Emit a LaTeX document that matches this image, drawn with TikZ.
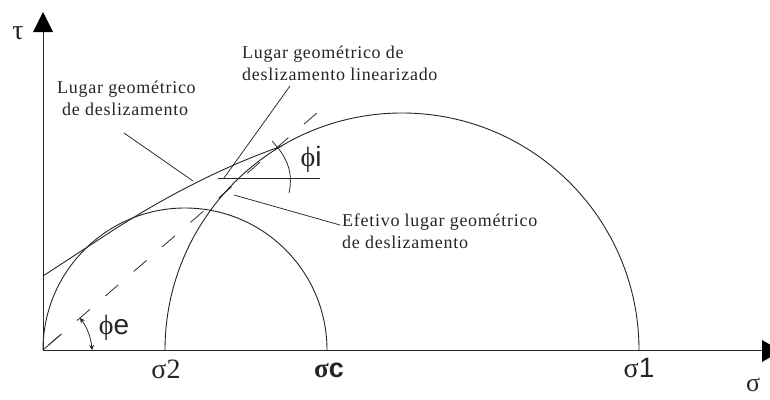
\documentclass[tikz,border=0pt]{standalone}
\usepackage{fontspec}
\usetikzlibrary{arrows.meta}
\setmainfont{Liberation Serif}
\newfontfamily\arialf{Liberation Sans}
\tikzset{
  curveline/.style={draw=black!85,line width=0.9pt},
  thinline/.style={draw=black!85,line width=0.75pt},
  lab/.style={inner sep=0pt,align=left,anchor=west,font=\fontsize{18pt}{23pt}\selectfont\addfontfeature{LetterSpace=4},text=black!85},
  sym/.style={inner sep=0pt,text=black!85,font=\fontsize{28pt}{30pt}\selectfont},
}
\begin{document}
\begin{tikzpicture}[x=1pt,y=-1pt]
\path[use as bounding box] (0,0) rectangle (770,399);
\clip (0,0) rectangle (770,399);
\fill[white] (0,0) rectangle (770,399);
% named points
\coordinate (O) at (43,350);
\coordinate (Ytop) at (43,14);
\coordinate (Xend) at (768,350);
% axes
\draw[thinline,line width=1pt] (O) -- (Ytop);
\draw[thinline,line width=1pt] (O) -- (Xend);
\fill[black] (43,12) -- (33,32) -- (53,32) -- cycle;
\fill[black] (762,340) -- (762,362) -- (781,351) -- cycle;
% circles
\draw[curveline] (43,350) arc[start angle=180,end angle=360,radius=142];
\draw[curveline] (165,350) arc[start angle=180,end angle=360,radius=237];
% envelope
\coordinate (E0) at (43,276);
\coordinate (E1) at (282,146);
\draw[curveline] (E0) -- (115,229) .. controls (170,194) and (225,166) .. (E1);
% dashed line
\coordinate (D1) at (318,112);
\coordinate (D0) at (60,335);
\draw[thinline] (O) -- (D0);
\draw[thinline,dash pattern=on 17pt off 20.5pt,dash phase=30pt] (O) -- (D1);
% linearised line
\coordinate (L0) at (224,178);
\coordinate (L1) at (290,86);
\coordinate (L2) at (218,178);
\coordinate (L3) at (320,178);
\draw[thinline] (L0) -- (L1);
\draw[thinline] (L2) -- (L3);
% phi i arc
\coordinate (Pi0) at (272,141);
\coordinate (Pi1) at (289,193);
\draw[thinline] (Pi0) .. controls (285,155) and (294,170) .. (Pi1);
% phi e arc
\coordinate (Pe0) at (80,318);
\coordinate (Pe1) at (92,350);
\draw[thinline,{Stealth[length=5pt,width=5pt]}-{Stealth[length=5pt,width=5pt]}] (Pe0) .. controls (87,327) and (91,338) .. (Pe1);
% labels
\node[lab] (a) at (57,98) {Lugar geométrico\\[-1pt]\hspace*{5pt}de deslizamento};
\node[lab] (b) at (242,63) {Lugar geométrico de\\[-1pt]deslizamento linearizado};
\node[lab] (c) at (342,231) {Efetivo lugar geométrico\\[-1pt]de deslizamento};
% leaders
\coordinate (A0) at (124,133);
\coordinate (A1) at (193,181);
\draw[thinline] (A0) -- (A1);
\coordinate (C0) at (234,195);
\coordinate (C1) at (340,225);
\draw[thinline] (C0) -- (C1);
% symbols
\node[sym] (tau) at (18,33) {τ};
\node[sym] (phii) at (311,159) {ϕ{\arialf i}};
\node[sym] (phie) at (114,328) {ϕ{\arialf e}};
\node[sym] (s2) at (166,369) {σ2};
\node[sym,font=\fontsize{27pt}{30pt}\selectfont\bfseries] (sc) at (329,370) {σ{\arialf c}};
\node[sym] (s1) at (639,368) {σ{\arialf 1}};
\node[sym,font=\fontsize{26pt}{28pt}\selectfont] (s) at (753,385) {σ};
\end{tikzpicture}
\end{document}
